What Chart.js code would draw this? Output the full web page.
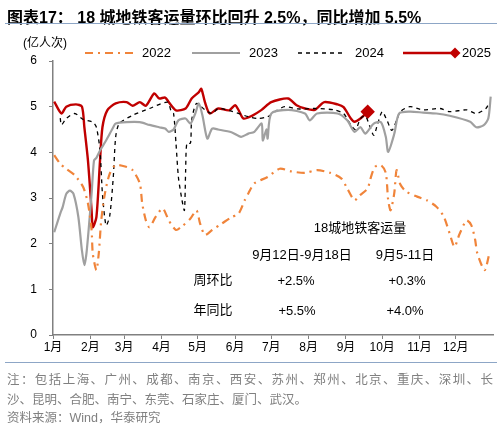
<!DOCTYPE html>
<html>
<head>
<meta charset="utf-8">
<script src="https://cdn.jsdelivr.net/npm/chart.js@4.4.1/dist/chart.umd.min.js"></script>
<style>
  body { margin: 0; background: #fff; font-family: "Liberation Sans", "Noto Sans CJK SC", sans-serif; }
  #wrap { position: relative; width: 501px; height: 432px; overflow: hidden; }
  #c { position: absolute; left: 0; top: 0; }
  .t { position: absolute; white-space: nowrap; }
  .ann { position: absolute; white-space: nowrap; font-size: 13px; line-height: 1; color: #000; transform: translate(-50%, -50%); }
  .rule { position: absolute; left: 5px; width: 492px; height: 0; border-top: 1.5px solid #8DA6C6; }
  .note { position: absolute; left: 7px; font-size: 12.5px; color: #808080; line-height: 1; white-space: nowrap; }
</style>
</head>
<body>
<div id="wrap">
  <canvas id="c" width="501" height="432"></canvas>
  <div class="t" style="left:7px;top:4px;font-size:16px;font-weight:bold;">图表17：&nbsp;18 城地铁客运量环比回升 2.5%，同比增加 5.5%</div>
  <div class="rule" style="top:23px;"></div>
  <div class="t" style="left:23px;top:33px;font-size:12px;">(亿人次)</div>

  <div class="ann" style="left:360px;top:227px;">18城地铁客运量</div>
  <div class="ann" style="left:302px;top:254px;">9月12日-9月18日</div>
  <div class="ann" style="left:405px;top:254px;">9月5-11日</div>
  <div class="ann" style="left:213px;top:279px;">周环比</div>
  <div class="ann" style="left:296px;top:280px;">+2.5%</div>
  <div class="ann" style="left:407px;top:280px;">+0.3%</div>
  <div class="ann" style="left:213px;top:309px;">年同比</div>
  <div class="ann" style="left:297px;top:310px;">+5.5%</div>
  <div class="ann" style="left:405px;top:310px;">+4.0%</div>

  <div class="rule" style="top:362px;"></div>
  <div class="note" style="top:374px;width:486px;text-align:justify;text-align-last:justify;">注：包括上海、广州、成都、南京、西安、苏州、郑州、北京、重庆、深圳、长</div>
  <div class="note" style="top:394px;">沙、昆明、合肥、南宁、东莞、石家庄、厦门、武汉。</div>
  <div class="note" style="top:412px;">资料来源：Wind，华泰研究</div>
</div>
<script>
// x = day of year, y = 亿人次
const monthStarts = [0, 31, 59, 90, 120, 151, 181, 212, 243, 273, 304, 334];
const monthLabels = ['1月', '2月', '3月', '4月', '5月', '6月', '7月', '8月', '9月', '10月', '11月', '12月'];

const days2022 = [1, 6, 11, 18, 25, 29, 32, 33, 36, 38, 40, 43, 47, 52, 61, 66, 72, 74, 77, 80, 85, 91, 96, 102, 107, 114, 119, 122, 126, 132, 140, 148, 154, 159, 162, 167, 178, 188, 198, 209, 219, 230, 239, 244, 250, 254, 261, 263, 267, 272, 276, 278, 280, 283, 285, 288, 293, 302, 310, 318, 324, 329, 333, 337, 343, 347, 350, 352, 358, 362];
const vals2022 = [3.94, 3.75, 3.64, 3.5, 3.24, 2.88, 2.3, 1.78, 1.42, 1.8, 2.51, 3.09, 3.53, 3.72, 3.68, 3.61, 3.32, 2.88, 2.51, 2.36, 2.58, 2.77, 2.51, 2.3, 2.38, 2.55, 2.73, 2.44, 2.19, 2.3, 2.44, 2.58, 2.66, 2.95, 3.1, 3.32, 3.46, 3.64, 3.58, 3.55, 3.61, 3.55, 3.43, 3.21, 2.95, 3.05, 3.21, 3.4, 3.68, 3.72, 3.55, 2.95, 2.73, 3.1, 3.61, 3.3, 3.14, 3.03, 2.95, 2.81, 2.6, 2.22, 1.93, 2.2, 2.51, 2.4, 2.1, 1.78, 1.42, 1.8];

const days2023 = [1, 6, 8, 11, 14, 17, 21, 24, 26, 28, 32, 34, 36, 39, 44, 50, 52, 61, 72, 80, 88, 93, 96, 100, 104, 110, 114, 118, 121, 124, 128, 132, 137, 148, 156, 162, 167, 173, 174, 177, 178, 181, 195, 209, 213, 219, 236, 244, 250, 255, 259, 266, 272, 276, 278, 283, 287, 296, 307, 318, 329, 346, 351, 357, 361, 363];
const vals2023 = [2.25, 2.66, 2.8, 3.09, 3.16, 3.09, 2.59, 1.85, 1.53, 1.85, 3.09, 3.82, 3.88, 4.04, 4.26, 4.55, 4.63, 4.66, 4.66, 4.6, 4.55, 4.52, 4.45, 4.5, 4.7, 4.74, 4.63, 4.85, 5.07, 4.8, 4.3, 4.52, 4.5, 4.44, 4.34, 4.41, 4.45, 4.63, 4.26, 4.5, 4.3, 4.85, 4.93, 4.85, 4.7, 4.85, 4.85, 4.7, 4.45, 4.55, 4.41, 4.63, 4.66, 4.34, 4.01, 4.4, 4.85, 4.89, 4.87, 4.85, 4.8, 4.67, 4.55, 4.59, 4.74, 5.22];

const days2024 = [6, 7, 11, 18, 25, 33, 36, 39, 41, 44, 47, 50, 52, 55, 66, 80, 95, 98, 100, 102, 104, 107, 109, 110, 111, 114, 115, 119, 126, 132, 137, 148, 162, 170, 178, 184, 192, 203, 217, 233, 241, 247, 251, 255, 259, 263, 266, 269, 273, 277, 281, 285, 288, 296, 307, 321, 329, 343, 351, 359, 362];
const vals2024 = [4.75, 4.6, 4.74, 4.85, 4.72, 4.66, 4.55, 4.04, 3.09, 2.4, 2.6, 3.46, 4.34, 4.63, 4.81, 4.96, 5.1, 4.9, 4.85, 4.2, 3.46, 2.95, 2.73, 3.6, 4.2, 4.2, 4.7, 5.07, 4.93, 4.85, 4.96, 4.9, 4.78, 4.74, 4.78, 4.89, 5.0, 4.95, 4.96, 4.93, 4.85, 4.6, 4.5, 4.74, 4.8, 4.55, 4.37, 4.6, 4.89, 4.7, 4.48, 4.7, 4.89, 5.0, 4.93, 4.96, 4.89, 4.93, 4.85, 4.96, 5.1];

const days2025 = [1, 7, 11, 19, 24, 26, 29, 32, 33, 36, 39, 41, 45, 52, 61, 66, 72, 77, 84, 88, 93, 96, 102, 110, 115, 121, 123, 126, 130, 137, 146, 151, 154, 158, 165, 173, 181, 195, 202, 209, 217, 225, 236, 241, 247, 250, 255, 261];
const vals2025 = [5.11, 4.85, 5.0, 5.05, 5.0, 4.55, 3.82, 2.73, 2.36, 2.58, 3.82, 4.55, 4.92, 5.07, 5.1, 5.02, 5.1, 5.02, 5.29, 5.18, 5.2, 5.1, 4.92, 4.96, 5.18, 5.32, 5.39, 5.1, 4.85, 4.96, 4.92, 5.03, 4.92, 4.74, 4.8, 4.93, 5.1, 5.18, 5.03, 4.96, 4.93, 5.1, 5.05, 4.99, 4.74, 4.67, 4.74, 4.89];

function pts(days, vals) {
  return days.map((d, i) => ({ x: d, y: vals[i] }));
}

// legend drawn by hand so the line samples look like the original
const legendPlugin = {
  id: 'lineLegend',
  afterDraw(chart) {
    const ctx = chart.ctx;
    const starts = [85, 192, 298, 403];
    const y = 53;
    ctx.save();
    ctx.font = '13px "Liberation Sans", sans-serif';
    ctx.textBaseline = 'middle';
    chart.data.datasets.forEach((ds, i) => {
      const x0 = starts[i];
      ctx.beginPath();
      ctx.setLineDash(ds.borderDash || []);
      ctx.strokeStyle = ds.borderColor;
      ctx.lineWidth = ds.borderWidth;
      ctx.moveTo(x0, y);
      ctx.lineTo(x0 + 48, y);
      ctx.stroke();
      ctx.setLineDash([]);
      if (ds.legendMarker) {
        ctx.fillStyle = ds.borderColor;
        ctx.beginPath();
        ctx.moveTo(x0 + 52, y - 5.5);
        ctx.lineTo(x0 + 57.5, y);
        ctx.lineTo(x0 + 52, y + 5.5);
        ctx.lineTo(x0 + 46.5, y);
        ctx.closePath();
        ctx.fill();
      }
      ctx.fillStyle = '#000';
      ctx.fillText(ds.label, x0 + (ds.legendMarker ? 59 : 57), y + 0.5);
    });
    ctx.restore();
  }
};

const lastIdx = days2025.length - 1;

new Chart(document.getElementById('c'), {
  type: 'line',
  data: {
    datasets: [
      {
        label: '2022',
        data: pts(days2022, vals2022),
        borderColor: '#F0843A',
        borderWidth: 2.2,
        borderDash: [8, 5, 2, 5],
        pointRadius: 0,
        tension: 0.25
      },
      {
        label: '2023',
        data: pts(days2023, vals2023),
        borderColor: '#A0A0A0',
        borderWidth: 2.2,
        pointRadius: 0,
        tension: 0.25
      },
      {
        label: '2024',
        data: pts(days2024, vals2024),
        borderColor: '#000000',
        borderWidth: 1.3,
        borderDash: [4, 4],
        pointRadius: 0,
        tension: 0.25
      },
      {
        label: '2025',
        data: pts(days2025, vals2025),
        borderColor: '#C00000',
        backgroundColor: '#C00000',
        borderWidth: 2.4,
        pointStyle: 'rectRot',
        pointRadius: days2025.map((d, i) => (i === lastIdx ? 5.5 : 0)),
        legendMarker: true,
        tension: 0.25
      }
    ]
  },
  options: {
    responsive: false,
    animation: false,
    layout: { padding: { top: 61, right: 4, left: 0, bottom: 0 } },
    plugins: {
      legend: { display: false },
      tooltip: { enabled: false }
    },
    scales: {
      x: {
        type: 'linear',
        min: 0,
        max: 365,
        afterBuildTicks: (scale) => {
          scale.ticks = monthStarts.map(v => ({ value: v }));
        },
        afterFit: (scale) => { scale.height = 97; },
        ticks: {
          autoSkip: false,
          maxRotation: 0,
          padding: 1,
          color: '#000',
          font: { size: 12, family: '"Liberation Sans", "Noto Sans CJK SC", sans-serif' },
          callback: (v, i) => monthLabels[i]
        },
        grid: { drawOnChartArea: false, drawTicks: true, tickLength: 4, color: '#808080' },
        border: { display: true, color: '#808080', width: 1.5 }
      },
      y: {
        min: 0,
        max: 6,
        afterFit: (scale) => { scale.width = 53; },
        ticks: {
          stepSize: 1,
          padding: 12,
          color: '#000',
          font: { size: 12, family: '"Liberation Sans", sans-serif' }
        },
        grid: { drawOnChartArea: false, drawTicks: true, tickLength: 4, color: '#808080' },
        border: { display: true, color: '#808080', width: 1.5 }
      }
    }
  },
  plugins: [legendPlugin]
});
</script>
</body>
</html>
